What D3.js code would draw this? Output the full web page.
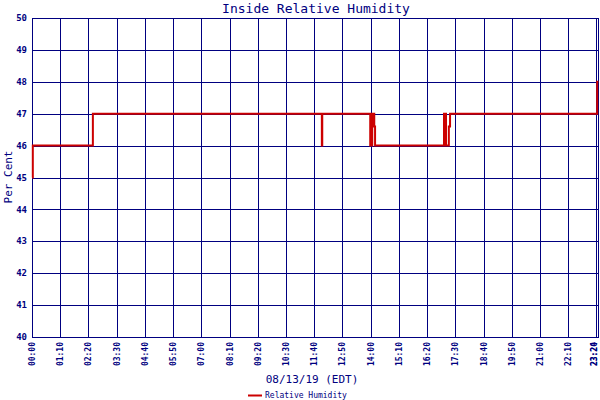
<!DOCTYPE html>
<html><head><meta charset="utf-8">
<script src="https://cdnjs.cloudflare.com/ajax/libs/d3/7.8.5/d3.min.js"></script>
<style>body{margin:0;background:#fff}text{font-family:"DejaVu Sans Mono",monospace}</style>
</head><body>
<svg id="chart" width="600" height="400"></svg>
<script>
// readings (time of day, % RH)
var times  = ["00:00","00:02","02:31","11:59","12:00","13:59","14:04","14:09","14:11","17:02","17:07","17:14","17:17","23:22","23:25"];
var values = [45, 46, 47, 46, 47, 46, 47, 46.6, 46, 47, 46, 46.6, 47, 48, 48];
var xTicks = ["00:00","01:10","02:20","03:30","04:40","05:50","07:00","08:10","09:20","10:30","11:40","12:50","14:00","15:10","16:20","17:30","18:40","19:50","21:00","22:10","23:20","23:24"];
var yTicks = [40, 41, 42, 43, 44, 45, 46, 47, 48, 49, 50];

function mins(s) { var p = s.split(":"); return +p[0] * 60 + +p[1]; }
var data = times.map(function(t, i) { return {t: mins(t), v: values[i]}; });

var svg = d3.select("#chart"),
    margin = {top: 18, right: 2, bottom: 63, left: 32},
    width = 600 - margin.left - margin.right,
    height = 400 - margin.top - margin.bottom,
    g = svg.append("g").attr("transform", "translate(" + margin.left + "," + margin.top + ")");

var x = d3.scaleLinear().domain([0, 1404]).range([0, width]);
var y = d3.scaleLinear().domain([40, 50]).range([height, 0]);
var navy = "#000080";

// grid
g.selectAll(".vg").data(xTicks.slice(0, -1)).enter().append("line")
    .attr("x1", function(d) { return Math.round(x(mins(d))) + 0.5; })
    .attr("x2", function(d) { return Math.round(x(mins(d))) + 0.5; })
    .attr("y1", 0).attr("y2", height).attr("stroke", navy);
g.selectAll(".hg").data(yTicks).enter().append("line")
    .attr("y1", function(d) { return Math.round(y(d)) + 0.5; })
    .attr("y2", function(d) { return Math.round(y(d)) + 0.5; })
    .attr("x1", 0).attr("x2", width).attr("stroke", navy);
g.append("rect").attr("x", 0.5).attr("y", 0.5).attr("width", width).attr("height", height)
    .attr("fill", "none").attr("stroke", navy);

// axes labels
g.selectAll(".yl").data(yTicks).enter().append("text")
    .attr("x", -5).attr("y", function(d) { return y(d); }).attr("dy", "0.35em")
    .attr("text-anchor", "end").attr("font-size", 9).attr("font-weight", "bold")
    .attr("fill", navy).text(function(d) { return d; });
g.selectAll(".xl").data(xTicks).enter().append("text")
    .attr("transform", function(d) { return "translate(" + Math.min(x(mins(d)) + 3, width - 1) + "," + (height + 5) + ") rotate(-90)"; })
    .attr("text-anchor", "end").attr("font-size", 8).attr("font-weight", "bold")
    .attr("fill", navy).text(function(d) { return d; });

// series
var line = d3.line().curve(d3.curveStepAfter)
    .x(function(d) { return x(d.t); }).y(function(d) { return y(d.v); });
g.append("path").datum(data).attr("d", line)
    .attr("fill", "none").attr("stroke", "#cc0000").attr("stroke-width", 2);

// titles
svg.append("text").attr("x", 316).attr("y", 13).attr("text-anchor", "middle")
    .attr("font-size", 13).attr("fill", navy).text("Inside Relative Humidity");
svg.append("text").attr("transform", "translate(12,177) rotate(-90)").attr("text-anchor", "middle")
    .attr("font-size", 11).attr("fill", navy).text("Per Cent");
svg.append("text").attr("x", 312).attr("y", 383).attr("text-anchor", "middle")
    .attr("font-size", 11).attr("fill", navy).text("08/13/19 (EDT)");
svg.append("line").attr("x1", 248).attr("x2", 262).attr("y1", 395.5).attr("y2", 395.5)
    .attr("stroke", "#cc0000").attr("stroke-width", 2);
svg.append("text").attr("x", 265).attr("y", 398).attr("font-size", 8)
    .attr("fill", navy).text("Relative Humidity");
</script>
</body></html>
